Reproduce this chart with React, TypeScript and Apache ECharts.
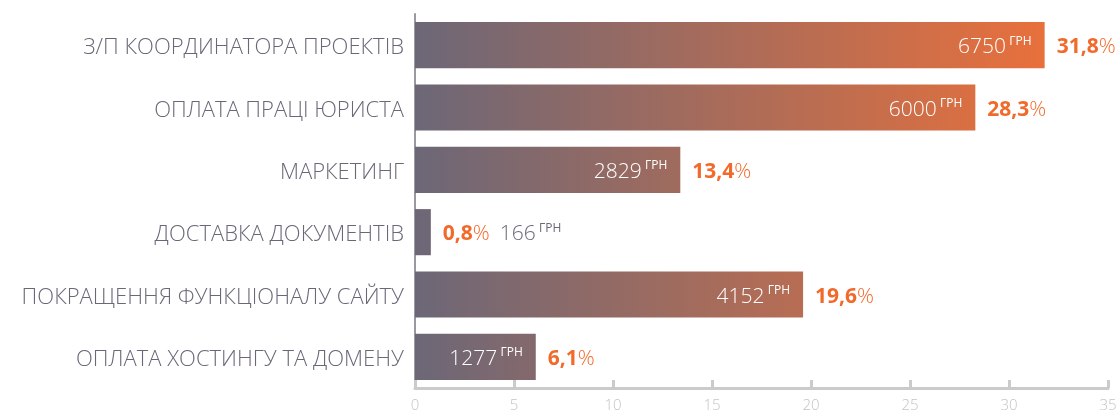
import React, { useEffect, useRef } from "react";
import * as echarts from "echarts";

const categories = [
  "З/П КООРДИНАТОРА ПРОЕКТІВ",
  "ОПЛАТА ПРАЦІ ЮРИСТА",
  "МАРКЕТИНГ",
  "ДОСТАВКА ДОКУМЕНТІВ",
  "ПОКРАЩЕННЯ ФУНКЦІОНАЛУ САЙТУ",
  "ОПЛАТА ХОСТИНГУ ТА ДОМЕНУ",
];
const percents = [31.8, 28.3, 13.4, 0.8, 19.6, 6.1];
const amounts = [6750, 6000, 2829, 166, 4152, 1277];
const xTicks = { min: 0, max: 35, interval: 5 };

const FONT = "'Open Sans', sans-serif";
const C0 = [108, 103, 119];
const C1 = [232, 112, 60];
const ORANGE = "#f26a2b";
const GREY = "#6b6777";

function mix(t: number) {
  const c = C0.map((a, i) => Math.round(a + (C1[i] - a) * t));
  return `rgb(${c[0]},${c[1]},${c[2]})`;
}
const fmtPct = (v: number) => v.toFixed(1).replace(".", ",");

export default function App() {
  const ref = useRef<HTMLDivElement>(null);
  useEffect(() => {
    if (!ref.current) return;
    const chart = echarts.init(ref.current, null, { renderer: "svg" });
    const maxP = Math.max(...percents);
    const inside = (v: number) => v >= 3;
    const rich = {
      v: { color: "#ffffff", fontSize: 21, fontFamily: FONT, fontWeight: 300 },
      s: { color: "#ffffff", fontSize: 12, fontFamily: FONT, padding: [0, 0, 10, 0] },
      p: { color: ORANGE, fontSize: 21, fontFamily: FONT, fontWeight: "bold" },
      pc: { color: ORANGE, fontSize: 21, fontFamily: FONT, fontWeight: 300 },
      g: { color: GREY, fontSize: 21, fontFamily: FONT, fontWeight: 300 },
      gs: { color: GREY, fontSize: 12, fontFamily: FONT, padding: [0, 0, 10, 0] },
    };
    chart.setOption({
      animation: false,
      grid: { left: 415, right: 12, top: 14, bottom: 26, containLabel: false },
      xAxis: {
        type: "value",
        min: xTicks.min,
        max: xTicks.max,
        interval: xTicks.interval,
        splitLine: { show: false },
        axisLine: { show: true, lineStyle: { color: "#cbcbcb", width: 3 } },
        axisTick: { show: true, inside: true, length: 8, lineStyle: { color: "#cbcbcb", width: 3 } },
        axisLabel: { color: "#c4c4c4", fontSize: 15, lineHeight: 16, fontFamily: FONT, fontWeight: 300, margin: 8 },
      },
      yAxis: {
        type: "category",
        inverse: true,
        data: categories,
        axisLine: { show: true, lineStyle: { color: "#9a98a0", width: 2 } },
        axisTick: { show: false },
        axisLabel: { color: GREY, fontSize: 22, fontFamily: FONT, fontWeight: 300, margin: 11 },
      },
      series: [
        {
          type: "bar",
          barWidth: "74%",
          z: 2,
          data: percents.map((p, i) => ({
            value: p,
            itemStyle: {
              color: new echarts.graphic.LinearGradient(0, 0, 1, 0, [
                { offset: 0, color: mix(0) },
                { offset: 1, color: mix(p / maxP) },
              ]),
            },
            label: {
              show: inside(p),
              position: "insideRight",
              distance: 13,
              formatter: `{v|${amounts[i]}} {s|ГРН}`,
              rich,
            },
          })),
        },
        {
          type: "bar",
          barWidth: "74%",
          barGap: "-100%",
          z: 3,
          silent: true,
          itemStyle: { color: "transparent" },
          data: percents.map((p, i) => ({
            value: p,
            label: {
              show: true,
              position: "right",
              distance: 12,
              formatter: inside(p)
                ? `{p|${fmtPct(p)}}{pc|%}`
                : `{p|${fmtPct(p)}}{pc|%}   {g|${amounts[i]}} {gs|ГРН}`,
              rich,
            },
          })),
        },
      ],
    });
    return () => chart.dispose();
  }, []);
  return (
    <div
      ref={ref}
      style={{ position: "fixed", left: 0, top: 0, width: 1120, height: 414 }}
    />
  );
}
